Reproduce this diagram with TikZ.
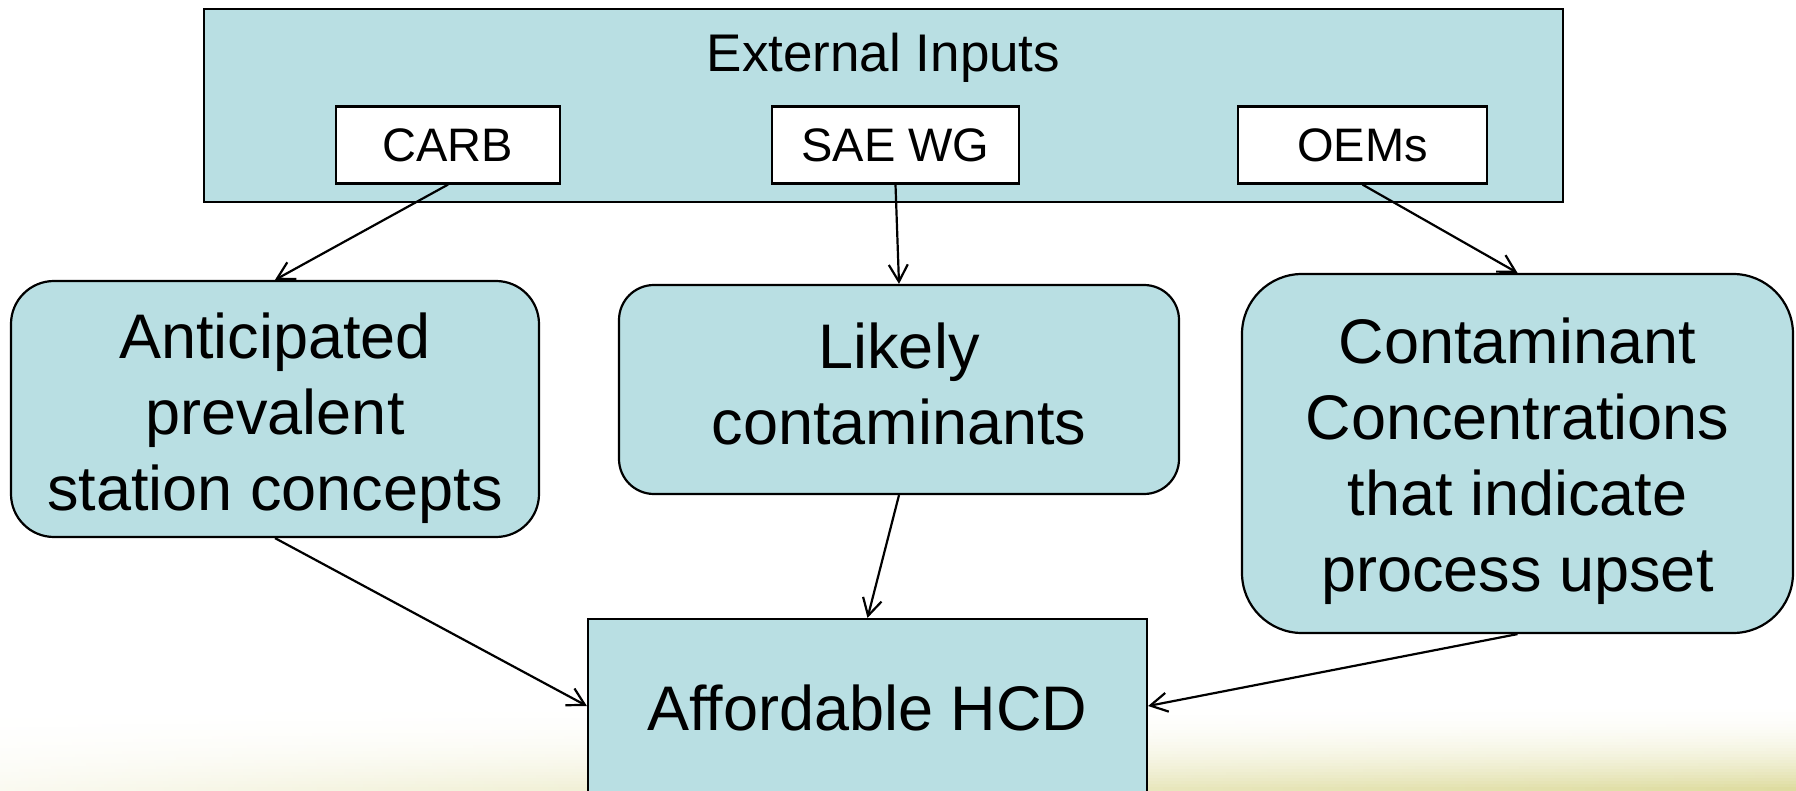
\documentclass[tikz,border=0pt]{standalone}
\usepackage{fontspec}
\setmainfont{Liberation Sans}
\usetikzlibrary{arrows.meta}
\definecolor{boxfill}{RGB}{185,223,227}
\definecolor{glow}{RGB}{222,220,160}
\begin{document}
\begin{tikzpicture}[x=1pt,y=-1pt,
  frame/.style={draw=black, line width=2.2pt, fill=boxfill, inner sep=0pt},
  bigtext/.style={align=center, inner sep=0pt, font=\fontsize{63}{76}\selectfont},
  source/.style={draw=black, line width=2.2pt, fill=white, inner sep=0pt,
    minimum height=77pt, font=\fontsize{47}{54}\selectfont},
  link/.style={line width=2.2pt, -{Straight Barb[length=17pt,width=19pt]}}
]
\useasboundingbox (0,0) rectangle (1796,791);
\clip (0,0) rectangle (1796,791);

% soft glow along the bottom edge, built from thin strips
\foreach \i in {0,...,29} {
  \pgfmathsetmacro{\p}{100*(\i/29)^2}
  \pgfmathsetmacro{\q}{15*(\i/29)^2}
  \shade[left color=glow!\q!white, right color=glow!\p!white]
    (0,{700+3*\i}) rectangle (1796,{700+3*\i+3.4});
}

% external inputs panel
\node[frame, minimum width=1359pt, minimum height=193pt] (ext) at (883.5,105.5) {};
\node[anchor=base, font=\fontsize{53}{61}\selectfont] (title) at (883.5,72) {External Inputs};
\node[source, minimum width=224pt] (carb) at (448,145) {CARB};
\node[source, minimum width=247pt] (sae) at (895.5,145) {SAE WG};
\node[source, minimum width=249pt] (oems) at (1362.5,145) {OEMs};

% topics
\node[frame, rounded corners=43pt, minimum width=528pt, minimum height=256pt]
  (concepts) at (275,409) {};
\node[bigtext] (conceptstext) at (275,418) {Anticipated\\prevalent\\station concepts};
\node[frame, rounded corners=35pt, minimum width=560pt, minimum height=209pt]
  (likely) at (899,389.5) {};
\node[bigtext] (likelytext) at (899,384) {Likely\\contaminants};
\node[frame, rounded corners=60pt, minimum width=551pt, minimum height=359pt]
  (conc) at (1517.5,453.5) {};
\node[bigtext] (conctext) at (1517.5,461) {Contaminant\\Concentrations\\that indicate\\process upset};

% goal
\node[frame, minimum width=559pt, minimum height=174pt] (hcd) at (867.5,706) {};
\node[bigtext] (hcdtext) at (867.5,708) {Affordable HCD};

% connectors
\draw[link] (carb.south) -- (concepts.north);
\draw[link] (sae.south) -- (likely.north);
\draw[link] (oems.south) -- (conc.north);
\draw[link] (concepts.south) -- (hcd.west);
\draw[link] (likely.south) -- (hcd.north);
\draw[link] (conc.south) -- (hcd.east);
\end{tikzpicture}
\end{document}
